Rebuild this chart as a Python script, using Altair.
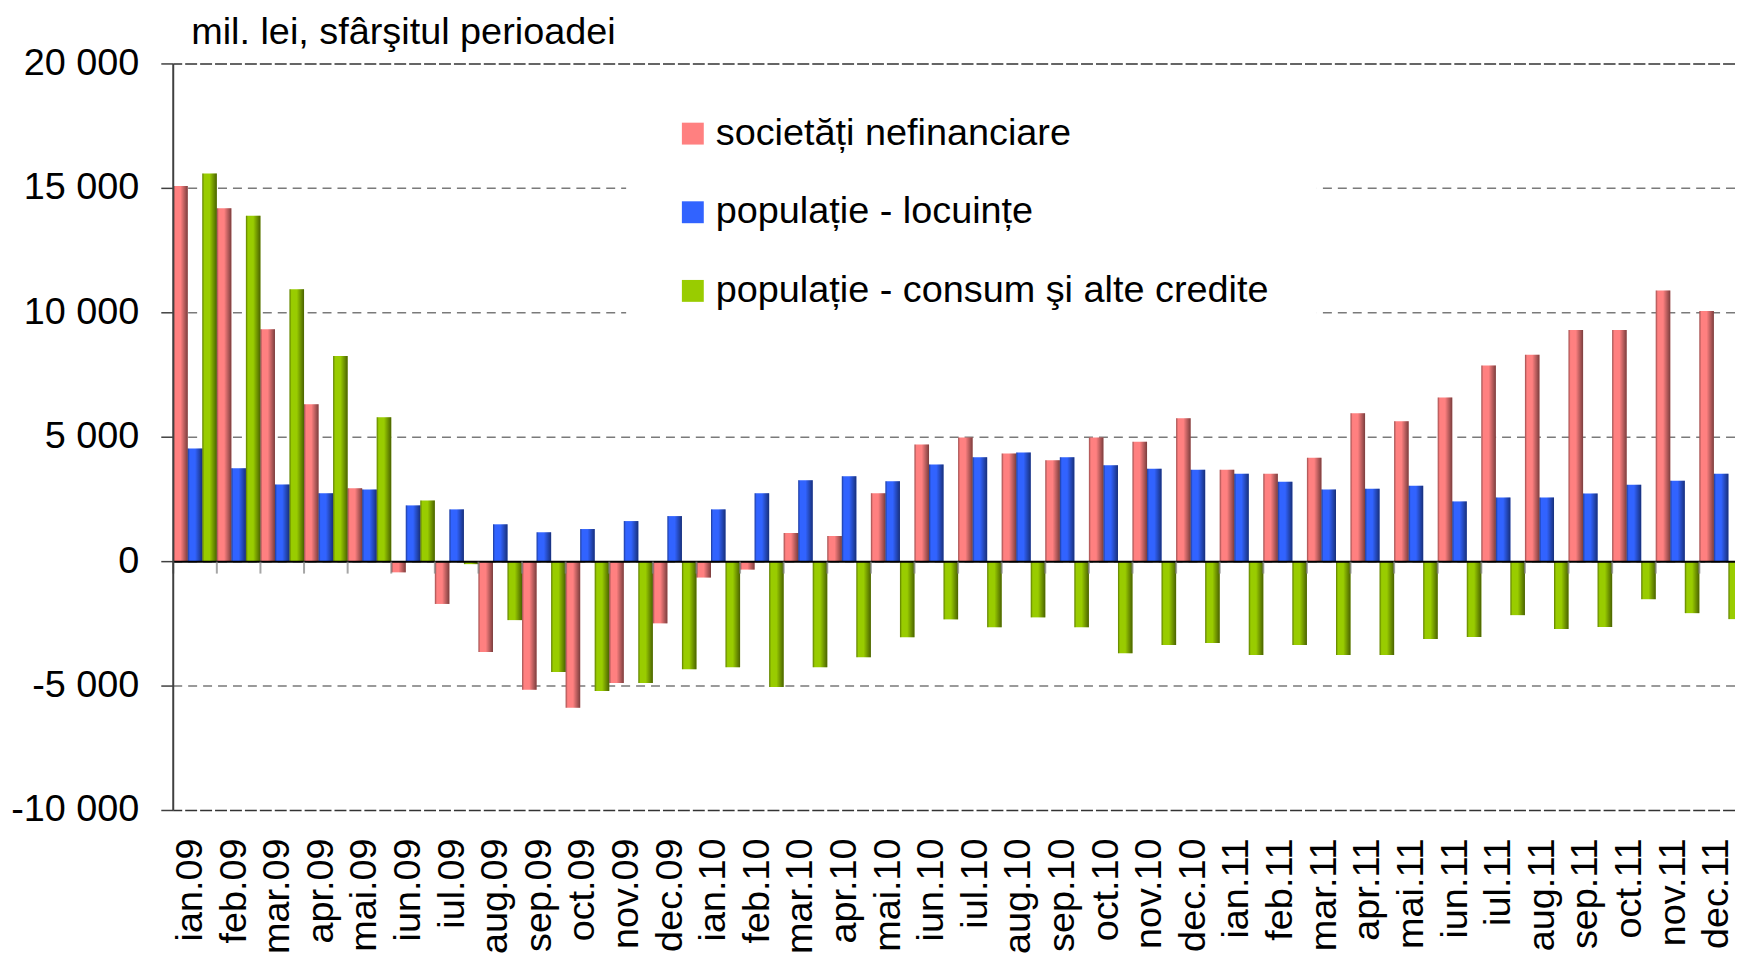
import altair as alt
import pandas as pd

months = [
    "ian.09", "feb.09", "mar.09", "apr.09", "mai.09", "iun.09", "iul.09", "aug.09", "sep.09", "oct.09", "nov.09", "dec.09",
    "ian.10", "feb.10", "mar.10", "apr.10", "mai.10", "iun.10", "iul.10", "aug.10", "sep.10", "oct.10", "nov.10", "dec.10",
    "ian.11", "feb.11", "mar.11", "apr.11", "mai.11", "iun.11", "iul.11", "aug.11", "sep.11", "oct.11", "nov.11", "dec.11",
]
series = [
    "societăți nefinanciare",
    "populație - locuințe",
    "populație - consum şi alte credite",
]
societati = [
    15100, 14200, 9340, 6320, 2950, -430, -1700, -3630, -5150, -5870, -4880, -2480,
    -640, -320, 1150, 1030, 2750, 4710, 4990, 4350, 4070, 4990, 4820, 5760,
    3690, 3530, 4170, 5960, 5640, 6600, 7880, 8310, 9310, 9310, 10900, 10070,
]
locuinte = [
    4550, 3750, 3100, 2750, 2900, 2260, 2100, 1500, 1180, 1310, 1630, 1830,
    2100, 2750, 3270, 3430, 3230, 3900, 4190, 4390, 4190, 3870, 3730, 3690,
    3530, 3210, 2900, 2930, 3050, 2420, 2580, 2580, 2740, 3090, 3250, 3530,
]
consum = [
    15600, 13900, 10950, 8260, 5800, 2460, -100, -2350, -4430, -5200, -4880, -4320,
    -4240, -5040, -4240, -3840, -3040, -2320, -2640, -2240, -2640, -3680, -3350, -3270,
    -3750, -3350, -3750, -3750, -3110, -3030, -2150, -2710, -2630, -1510, -2070, -2310,
]
colors = ["#FF8080", "#3163FF", "#99CC00"]
y_ticks = [-10000, -5000, 0, 5000, 10000, 15000, 20000]
y_labels = ["-10 000", "-5 000", "0", "5 000", "10 000", "15 000", "20 000"]
title_text = "mil. lei, sfârşitul perioadei"

rows = []
for i, m in enumerate(months):
    for s, vals in zip(series, [societati, locuinte, consum]):
        rows.append({"luna": m, "serie": s, "valoare": vals[i]})
df = pd.DataFrame(rows)
zero_df = pd.DataFrame({"z": [0]})
month_df = pd.DataFrame({"luna": months, "z": [0] * len(months), "jos": [y_ticks[0]] * len(months)})
grid_df = pd.DataFrame({"v": y_ticks, "eticheta": y_labels})
domain_df = pd.DataFrame({"a": [y_ticks[0]], "b": [y_ticks[-1]]})
title_df = pd.DataFrame({"t": [title_text]})

FONT = "Liberation Sans"

x_scale = alt.Scale(range=[0, 1577], paddingInner=0, paddingOuter=0)
y_scale = alt.Scale(domain=[y_ticks[0], y_ticks[-1]], nice=False)

edge_test = "datum.v == 20000 || datum.v == -10000"
grid = alt.Chart(grid_df).mark_rule(strokeWidth=1.5).encode(
    y=alt.Y("v:Q", scale=y_scale, axis=None),
    strokeDash=alt.condition(edge_test, alt.value([12, 3]), alt.value([9, 6])),
    color=alt.condition(edge_test, alt.value("#333333"), alt.value("#7a7a7a")),
)

bars = alt.Chart(df).mark_bar().encode(
    x=alt.X("luna:N", sort=months, scale=x_scale, axis=None),
    xOffset=alt.XOffset("serie:N", sort=series, scale=alt.Scale(paddingInner=0, paddingOuter=0)),
    y=alt.Y("valoare:Q", scale=y_scale, axis=None),
    y2=alt.datum(0),
    color=alt.Color(
        "serie:N", sort=series,
        scale=alt.Scale(domain=series, range=colors),
        legend=alt.Legend(
            title=None, orient="none", legendX=455, legendY=3,
            fillColor="white", padding=48, symbolType="square", symbolSize=484,
            symbolStrokeWidth=0, symbolOpacity=1, labelFontSize=38, labelFont=FONT,
            labelColor="black", labelOffset=4, rowPadding=41, labelLimit=800,
        ),
    ),
)

shade_fill = alt.LinearGradient(
    gradient="linear", x1=0, x2=1, y1=0, y2=0,
    stops=[
        alt.GradientStop(color="rgba(0,0,0,0.40)", offset=0),
        alt.GradientStop(color="rgba(0,0,0,0.0)", offset=0.14),
        alt.GradientStop(color="rgba(0,0,0,0.0)", offset=0.5),
        alt.GradientStop(color="rgba(0,0,0,0.52)", offset=1),
    ],
)
shade = alt.Chart(df).mark_bar(fill=shade_fill).encode(
    x=alt.X("luna:N", sort=months, axis=None),
    xOffset=alt.XOffset("serie:N", sort=series),
    y=alt.Y("valoare:Q", axis=None),
    y2=alt.datum(0),
)

zero_line = alt.Chart(zero_df).mark_rule(color="black", strokeWidth=2).encode(
    y=alt.Y("z:Q", axis=None),
)

cat_ticks = alt.Chart(month_df).mark_tick(
    orient="vertical", size=12, thickness=2, yOffset=6, color="#808080"
).encode(
    x=alt.X("luna:N", sort=months, bandPosition=0, axis=None),
    y=alt.Y("z:Q", axis=None),
)

# category labels below the plot (rotated)
x_labels = alt.Chart(month_df).mark_text(
    angle=270, align="right", baseline="middle", fontSize=38, font=FONT,
    color="black", yOffset=28, xOffset=-4,
).encode(
    x=alt.X("luna:N", sort=months, axis=None),
    y=alt.Y("jos:Q", axis=None),
    text="luna:N",
)

# value axis: line, ticks, labels
y_domain = alt.Chart(domain_df).mark_rule(color="#404040", strokeWidth=2).encode(
    x=alt.value(0),
    y=alt.Y("a:Q", axis=None),
    y2="b:Q",
)
y_tick_marks = alt.Chart(grid_df).mark_rule(color="#404040", strokeWidth=1.5).encode(
    x=alt.value(-12),
    x2=alt.value(0),
    y=alt.Y("v:Q", axis=None),
)
y_tick_labels = alt.Chart(grid_df).mark_text(
    align="right", baseline="middle", fontSize=38, font=FONT, color="black",
).encode(
    x=alt.value(-34),
    y=alt.Y("v:Q", axis=None),
    text="eticheta:N",
)

# unit caption above the value axis
unit_title = alt.Chart(title_df).mark_text(
    align="left", baseline="alphabetic", fontSize=38, font=FONT, color="black",
).encode(
    x=alt.value(18),
    y=alt.value(-20),
    text="t:N",
)

chart = alt.layer(
    grid, bars, shade, zero_line, cat_ticks, y_domain, y_tick_marks,
    y_tick_labels, x_labels, unit_title,
).properties(
    width=1569, height=750,
    autosize=alt.AutoSizeParams(type="none"),
    padding={"left": 166, "top": 54, "right": 0, "bottom": 147},
    background="white",
).configure(
    view=alt.ViewConfig(stroke=None),
)

chart.save("out.html", embed_options={"renderer": "svg", "actions": False})
